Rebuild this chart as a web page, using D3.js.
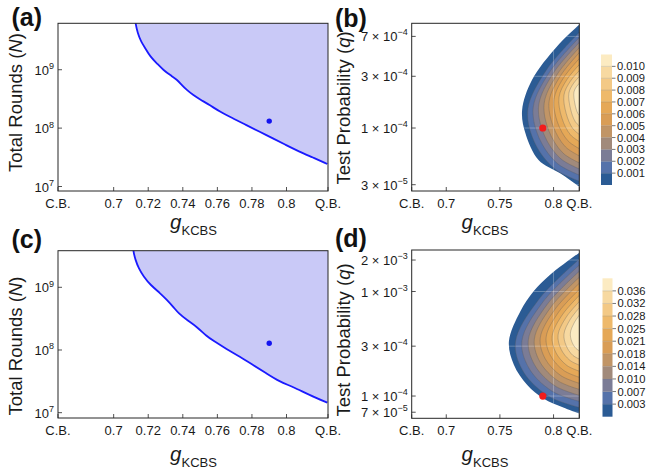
<!DOCTYPE html>
<html><head><meta charset="utf-8">
<script src="https://cdn.jsdelivr.net/npm/d3@7"></script>
<style>
body{margin:0;background:#fff;}
svg{display:block;font-family:"Liberation Sans",Arial,Helvetica,sans-serif;}
</style></head><body>
<svg id="chart" width="647" height="475"></svg>
<script>
// ---------------- data ----------------
const gDomain = [0.6678, 0.824];            // C.B. ... Q.B.
const boundLabels = ["C.B.", "Q.B."];
const leftXTicks = [0.7, 0.72, 0.74, 0.76, 0.78, 0.8];
const rightXTicks = [0.7, 0.75, 0.8];

const roundsTicks = [1e7, 1e8, 1e9];
const roundsTickExp = ["7", "8", "9"];
const qTicksB = [3e-5, 1e-4, 3e-4, 7e-4];
const qTickMantB = ["3", "1", "3", "7"];
const qTickExpB = ["\u22125", "\u22124", "\u22124", "\u22124"];
const qTicksD = [7e-5, 1e-4, 3e-4, 1e-3, 2e-3];
const qTickMantD = ["7", "1", "3", "1", "2"];
const qTickExpD = ["\u22125", "\u22124", "\u22124", "\u22123", "\u22123"];

// log10 extents of the vertical axes
const yExpA = [6.923, 9.795];
const yExpC = [6.915, 9.584];
const yExpB = [-4.581, -3.034];
const yExpD = [-4.213, -2.603];

// boundary of required total rounds: [g_KCBS, log10 N]
const curveA = [[0.7124,9.90],[0.7126,9.79],[0.7140,9.619],[0.7155,9.504],[0.7184,9.362],[0.7213,9.219],[0.7251,9.106],
  [0.7289,8.991],[0.7328,8.906],[0.7366,8.832],[0.7395,8.735],[0.7424,8.650],[0.7461,8.564],[0.7500,8.491],
  [0.7557,8.393],[0.7615,8.279],[0.7691,8.166],[0.7768,8.051],[0.7845,7.937],[0.7921,7.824],[0.7998,7.709],
  [0.8075,7.595],[0.8151,7.499],[0.8236,7.385]];
const curveC = [[0.7111,9.70],[0.7113,9.584],[0.7126,9.435],[0.7145,9.303],[0.7174,9.169],[0.7213,9.037],[0.7270,8.904],
  [0.7309,8.797],[0.7347,8.681],[0.7375,8.585],[0.7424,8.478],[0.7481,8.372],[0.7539,8.217],[0.7576,8.150],
  [0.7653,8.014],[0.7730,7.893],[0.7806,7.761],[0.7883,7.628],[0.7960,7.494],[0.8036,7.415],[0.8132,7.282],
  [0.8236,7.160]];
const pointA = [0.79, 8.12];
const pointC = [0.79, 8.107];

// contour curves of the key rate: [g_KCBS, log10 q], outermost (0) to innermost (10)
const contoursB = [
  [[0.8263,-3.027],[0.8030,-3.250],[0.7799,-3.557],[0.7707,-3.834],[0.7738,-4.049],[0.7860,-4.295],[0.8061,-4.418],[0.8263,-4.558]],
  [[0.8263,-3.096],[0.7937,-3.460],[0.7761,-3.825],[0.7821,-4.128],[0.8012,-4.377],[0.8263,-4.498]],
  [[0.8263,-3.142],[0.7970,-3.474],[0.7811,-3.806],[0.7866,-4.093],[0.8037,-4.328],[0.8263,-4.443]],
  [[0.8263,-3.188],[0.8002,-3.488],[0.7862,-3.788],[0.7910,-4.058],[0.8063,-4.280],[0.8263,-4.387]],
  [[0.8263,-3.234],[0.8036,-3.502],[0.7913,-3.769],[0.7955,-4.023],[0.8088,-4.231],[0.8263,-4.332]],
  [[0.8263,-3.280],[0.8066,-3.516],[0.7959,-3.751],[0.7996,-3.983],[0.8111,-4.174],[0.8263,-4.268]],
  [[0.8263,-3.336],[0.8095,-3.534],[0.8005,-3.732],[0.8036,-3.945],[0.8134,-4.118],[0.8263,-4.203]],
  [[0.8263,-3.391],[0.8125,-3.553],[0.8051,-3.714],[0.8077,-3.905],[0.8157,-4.062],[0.8263,-4.138]],
  [[0.8263,-3.447],[0.8155,-3.571],[0.8097,-3.696],[0.8118,-3.866],[0.8180,-4.006],[0.8263,-4.074]],
  [[0.8263,-3.502],[0.8186,-3.589],[0.8143,-3.677],[0.8158,-3.822],[0.8203,-3.942],[0.8263,-4.000]],
  [[0.8263,-3.566],[0.8215,-3.617],[0.8190,-3.668],[0.8199,-3.776],[0.8226,-3.864],[0.8263,-3.908]]
];
const contoursD = [
  [[0.8263,-2.612],[0.7968,-2.839],[0.7814,-2.998],[0.7691,-3.189],[0.7584,-3.477],[0.7630,-3.700],[0.7753,-3.892],[0.7906,-4.024],[0.8091,-4.110],[0.8263,-4.177]],
  [[0.8263,-2.670],[0.7862,-3.077],[0.7645,-3.483],[0.7719,-3.767],[0.7954,-4.001],[0.8263,-4.115]],
  [[0.8263,-2.727],[0.7901,-3.100],[0.7705,-3.474],[0.7773,-3.737],[0.7984,-3.952],[0.8263,-4.057]],
  [[0.8263,-2.785],[0.7940,-3.124],[0.7765,-3.464],[0.7825,-3.705],[0.8014,-3.903],[0.8263,-4.000]],
  [[0.8263,-2.842],[0.7976,-3.148],[0.7821,-3.455],[0.7874,-3.675],[0.8042,-3.855],[0.8263,-3.943]],
  [[0.8263,-2.899],[0.8012,-3.172],[0.7876,-3.445],[0.7922,-3.643],[0.8070,-3.806],[0.8263,-3.885]],
  [[0.8263,-2.957],[0.8048,-3.196],[0.7931,-3.435],[0.7971,-3.612],[0.8097,-3.757],[0.8263,-3.828]],
  [[0.8263,-3.014],[0.8084,-3.220],[0.7987,-3.426],[0.8020,-3.581],[0.8125,-3.708],[0.8263,-3.770]],
  [[0.8263,-3.072],[0.8119,-3.244],[0.8042,-3.416],[0.8069,-3.550],[0.8153,-3.659],[0.8263,-3.713]],
  [[0.8263,-3.129],[0.8155,-3.268],[0.8097,-3.407],[0.8118,-3.519],[0.8180,-3.611],[0.8263,-3.655]],
  [[0.8263,-3.196],[0.8194,-3.297],[0.8157,-3.397],[0.8170,-3.479],[0.8210,-3.546],[0.8263,-3.579]]
];
const pointB = [0.79, -4];
const pointD = [0.79, -4];

const bandColors = ["#2b5b94","#5572aa","#7b7c96","#a18a7b","#c19566","#d99d56","#e5a857","#eeb96b","#f3c986","#f7d9a1","#fcebc2"];
const levelsB = ["0.001","0.002","0.003","0.004","0.005","0.006","0.007","0.008","0.009","0.010"];
const levelsD = ["0.003","0.007","0.010","0.014","0.018","0.021","0.025","0.028","0.032","0.036"];

// ---------------- drawing ----------------
const svg = d3.select("#chart");
svg.append("rect").attr("width",647).attr("height",475).attr("fill","#fff");
const defs = svg.append("defs");
const AX = "#262626";

function xAxisCommon(g, x, y0, y1, ticks, labelY){
  const all = [gDomain[0]].concat(ticks).concat([gDomain[1]]);
  const labs = [boundLabels[0]].concat(ticks.map(d=>d3.format("")(+d.toFixed(2)))).concat([boundLabels[1]]);
  g.selectAll(null).data(all).enter().append("line")
    .attr("x1",d=>x(d)).attr("x2",d=>x(d)).attr("y1",y1).attr("y2",y1-4)
    .attr("stroke",AX).attr("stroke-width",0.8);
  g.selectAll(null).data(all).enter().append("text")
    .attr("x",d=>x(d)).attr("y",labelY).attr("text-anchor","middle")
    .attr("font-size",13).attr("fill","#1a1a1a").text((d,i)=>labs[i]);
}

function frame(g, x0, x1, y0, y1){
  g.append("rect").attr("x",x0).attr("y",y0).attr("width",x1-x0).attr("height",y1-y0)
    .attr("fill","none").attr("stroke",AX).attr("stroke-width",1);
}

function xLabel(g, cx, by){
  const t = g.append("text").attr("x",cx).attr("y",by).attr("text-anchor","middle").attr("fill","#1a1a1a");
  t.append("tspan").attr("font-style","italic").attr("font-size",20.5).text("g");
  t.append("tspan").attr("font-size",13).attr("dy",6).text("KCBS");
}

function yLabel(g, bx, cy, pre, v){
  const t = g.append("text").attr("transform",`translate(${bx},${cy}) rotate(-90)`)
    .attr("text-anchor","middle").attr("font-size",18.5).attr("fill","#1a1a1a");
  t.append("tspan").text(pre);
  t.append("tspan").attr("font-style","italic").text(v);
  t.append("tspan").text(")");
}

function panelLabel(g, x, y, s){
  g.append("text").attr("x",x).attr("y",y).attr("font-size",25).attr("font-weight","bold").attr("fill","#111").text(s);
}

function leftPanel(c){
  const g = svg.append("g");
  const x = d3.scaleLinear().domain(gDomain).range([c.x0,c.x1]);
  const y = d3.scaleLog().domain(c.yExp.map(e=>10**e)).range([c.y1,c.y0]);
  defs.append("clipPath").attr("id","clip"+c.id).append("rect")
    .attr("x",c.x0).attr("y",c.y0).attr("width",c.x1-c.x0).attr("height",c.y1-c.y0);
  const inner = g.append("g").attr("clip-path",`url(#clip${c.id})`);
  const pts = c.curve.map(d=>[x(d[0]), y(10**d[1])]);
  const line = d3.line().curve(d3.curveBasis);
  const first = pts[0], last = pts[pts.length-1];
  inner.append("path")
    .attr("d", line(pts) + `L${c.x1+6},${last[1]}L${c.x1+6},${c.y0-6}L${first[0]},${c.y0-6}Z`)
    .attr("fill","#c9c9f7").attr("stroke","none");
  inner.append("path").attr("d", line(pts)).attr("fill","none")
    .attr("stroke","#1a1aff").attr("stroke-width",1.8);
  inner.append("circle").attr("cx",x(c.point[0])).attr("cy",y(10**c.point[1])).attr("r",2.7).attr("fill","#1414f0");
  frame(g, c.x0, c.x1, c.y0, c.y1);
  xAxisCommon(g, x, c.y0, c.y1, leftXTicks, c.y1+16.5);
  roundsTicks.forEach((v,i)=>{
    g.append("line").attr("x1",c.x0).attr("x2",c.x0+4).attr("y1",y(v)).attr("y2",y(v)).attr("stroke",AX).attr("stroke-width",0.8);
    const t = g.append("text").attr("x",c.x0-4).attr("y",y(v)+5).attr("text-anchor","end").attr("font-size",13).attr("fill","#1a1a1a");
    t.append("tspan").text("10");
    t.append("tspan").attr("dy",-5.5).attr("font-size",9).text(roundsTickExp[i]);
  });
  xLabel(g, c.xlab[0], c.xlab[1]);
  yLabel(g, c.ylab[0], c.ylab[1], "Total Rounds (", "N");
  panelLabel(g, c.pl[0], c.pl[1], c.name);
}

function rightPanel(c){
  const g = svg.append("g");
  const x = d3.scaleLinear().domain(gDomain).range([c.x0,c.x1]);
  const y = d3.scaleLog().domain(c.yExp.map(e=>10**e)).range([c.y1,c.y0]);
  defs.append("clipPath").attr("id","clip"+c.id).append("rect")
    .attr("x",c.x0).attr("y",c.y0).attr("width",c.x1-c.x0).attr("height",c.y1-c.y0);
  const line = d3.line().x(d=>x(d[0])).y(d=>y(10**d[1])).curve(d3.curveCatmullRom.alpha(0.5));
  defs.append("clipPath").attr("id","reg"+c.id).append("path").attr("d", line(c.contours[0])+"Z");
  const inner = g.append("g").attr("clip-path",`url(#clip${c.id})`);
  c.contours.forEach((ct,k)=>{
    inner.append("path").attr("d", line(ct)+"Z").attr("fill",bandColors[k]).attr("stroke","none");
  });
  const grid = inner.append("g").attr("clip-path",`url(#reg${c.id})`);
  rightXTicks.forEach(v=>{
    grid.append("line").attr("x1",x(v)).attr("x2",x(v)).attr("y1",c.y0).attr("y2",c.y1)
      .attr("stroke","#fff").attr("stroke-opacity",0.35).attr("stroke-width",0.8);
  });
  c.qTicks.forEach(v=>{
    grid.append("line").attr("x1",c.x0).attr("x2",c.x1).attr("y1",y(v)).attr("y2",y(v))
      .attr("stroke","#fff").attr("stroke-opacity",0.35).attr("stroke-width",0.8);
  });
  c.contours.slice(1).forEach(ct=>{
    inner.append("path").attr("d", line(ct)).attr("fill","none")
      .attr("stroke","#5a5a5a").attr("stroke-opacity",0.45).attr("stroke-width",0.7);
  });
  inner.append("circle").attr("cx",x(c.point[0])).attr("cy",y(10**c.point[1])).attr("r",3.6).attr("fill","#f21c1c");
  frame(g, c.x0, c.x1, c.y0, c.y1);
  xAxisCommon(g, x, c.y0, c.y1, rightXTicks, c.y1+16.5);
  c.qTicks.forEach((v,i)=>{
    g.append("line").attr("x1",c.x0).attr("x2",c.x0+4).attr("y1",y(v)).attr("y2",y(v)).attr("stroke",AX).attr("stroke-width",0.8);
    const t = g.append("text").attr("x",c.x0-4).attr("y",y(v)+5).attr("text-anchor","end").attr("font-size",13).attr("fill","#1a1a1a");
    t.append("tspan").text(c.mant[i] + " \u00d7 10");
    t.append("tspan").attr("dy",-6).attr("font-size",9).text(c.exps[i]);
  });
  xLabel(g, c.xlab[0], c.xlab[1]);
  yLabel(g, c.ylab[0], c.ylab[1], "Test Probability (", "q");
  panelLabel(g, c.pl[0], c.pl[1], c.name);
  // colour bar
  const cb = c.cbar;
  const cy = d3.scaleLinear().domain([0, bandColors.length]).range([cb.y1, cb.y0]);
  bandColors.forEach((col,i)=>{
    g.append("rect").attr("x",cb.x0).attr("width",cb.x1-cb.x0)
      .attr("y",cy(i+1)).attr("height",cy(i)-cy(i+1)).attr("fill",col);
  });
  c.levels.forEach((lab,i)=>{
    g.append("line").attr("x1",cb.x0).attr("x2",cb.x1).attr("y1",cy(i+1)).attr("y2",cy(i+1))
      .attr("stroke","#6a6a6a").attr("stroke-opacity",0.35).attr("stroke-width",0.6);
    g.append("line").attr("x1",cb.x1).attr("x2",cb.x1+3.5).attr("y1",cy(i+1)).attr("y2",cy(i+1))
      .attr("stroke","#555").attr("stroke-width",0.8);
    g.append("text").attr("x",cb.x1+5).attr("y",cy(i+1)).attr("dy","0.36em")
      .attr("font-size",11.2).attr("fill","#1a1a1a").text(lab);
  });
}

leftPanel({id:"a", name:"(a)", x0:58, x1:328, y0:23.3, y1:191, yExp:yExpA, curve:curveA, point:pointA,
  xlab:[193.5,229], ylab:[21.5,102.5], pl:[11.5,25.5]});
leftPanel({id:"c", name:"(c)", x0:58, x1:328, y0:250.7, y1:418, yExp:yExpC, curve:curveC, point:pointC,
  xlab:[193.5,460.5], ylab:[21.5,346], pl:[11.5,247.5]});
rightPanel({id:"b", name:"(b)", x0:411.7, x1:579.3, y0:23.3, y1:191, yExp:yExpB, contours:contoursB, point:pointB,
  qTicks:qTicksB, mant:qTickMantB, exps:qTickExpB, levels:levelsB,
  cbar:{x0:601, x1:612, y0:54.5, y1:185},
  xlab:[485,229], ylab:[349.5,108], pl:[335,27]});
rightPanel({id:"d", name:"(d)", x0:411.7, x1:579.3, y0:250, y1:418.3, yExp:yExpD, contours:contoursD, point:pointD,
  qTicks:qTicksD, mant:qTickMantD, exps:qTickExpD, levels:levelsD,
  cbar:{x0:602.5, x1:612.5, y0:278.3, y1:416.7},
  xlab:[485,461], ylab:[350,340], pl:[335,247]});
</script>
</body></html>
